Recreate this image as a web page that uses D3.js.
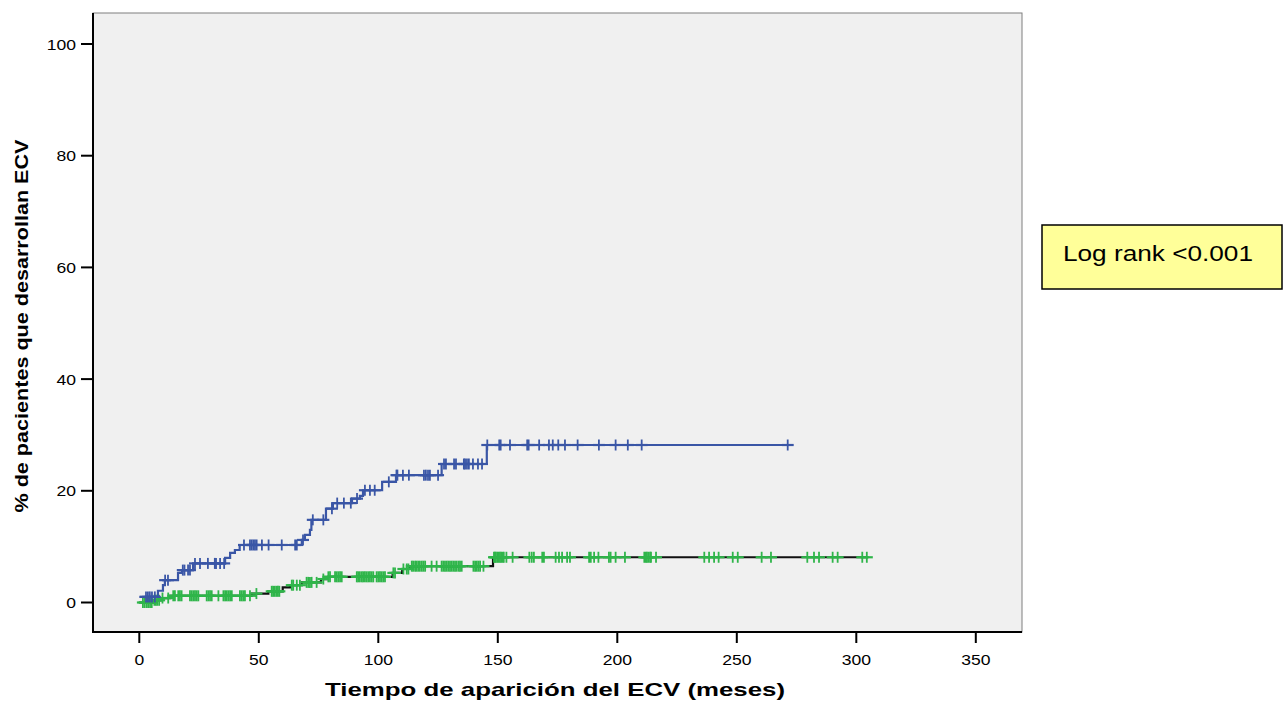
<!DOCTYPE html>
<html><head><meta charset="utf-8">
<script src="https://cdn.jsdelivr.net/npm/d3@7"></script>
<style>body{margin:0;background:#fff;}svg{display:block;}</style>
</head><body>
<svg id="c" width="1288" height="702"></svg>
<script>
// ---- data ----
const xTicks = [0, 50, 100, 150, 200, 250, 300, 350];
const yTicks = [0, 20, 40, 60, 80, 100];
const xTitle = "Tiempo de aparición del ECV (meses)";
const yTitle = "% de pacientes que desarrollan ECV";
const noteText = "Log rank <0.001";

// step curves: [time, cumulative % after step]
const blueSteps = [[0,1.0],[7.8,2.1],[9.9,3.1],[10.7,4.0],[16.2,5.3],[17.9,5.8],[22.5,7.0],[35.9,8.0],[38,8.9],[40,9.4],[42,10.3],[68,11.2],[69.3,12.1],[71.4,13.0],[72,14.8],[78.1,16.8],[81,17.8],[89,18.6],[92.3,19.1],[93.6,20.1],[101.6,21.6],[107.4,22.8],[126.5,24.8],[145.4,28.2]];
const blueEnd = 271.3;
const blueCensored = [2.8,3.6,4.4,5.3,6.5,10.8,12,18.2,18.9,20.4,21.2,23.3,25.4,28.7,31.6,32.1,33.8,35.5,43.8,46.3,47,47.7,48.4,49.1,51.3,54.1,59.6,65.2,65.9,68.5,72.6,77,80.6,82.8,85.6,88.5,91.1,94.4,96.5,98.5,104.4,107.6,108,110.3,112.8,119.1,119.9,120.8,121.6,125,127.5,128.3,131.7,132.5,135.8,136.3,137.1,137.9,139.6,141.7,143.4,145.6,150.6,151.2,155.1,162.3,162.9,167.3,171.4,173,175.3,178.1,183.4,192.3,199.3,204.4,210.2,271.3];

const greenSteps = [[0,0],[6,0.4],[9,0.8],[13,1.2],[47,1.6],[54,2.0],[60,2.7],[63,3.1],[68,3.6],[76,4.2],[79,4.6],[106,5.3],[110,6.0],[113,6.5],[148,8.1]];
const greenEnd = 305;
const greenCensored = [1.5,2.2,3,3.7,4.5,5.2,6.3,6.9,7.5,8.3,9.7,12.1,14.2,14.9,16.3,17,17.7,21.2,21.9,22.6,23.3,24,24.7,28.2,28.9,29.6,30.3,33.1,35.2,35.9,36.6,37.3,38,38.7,42.1,42.8,43.5,44.2,46.3,49,55.4,56,56.7,57.4,58,58.6,63.8,64.4,65.9,67.2,70,70.7,71.4,72.1,74.2,77,79.1,79.8,81.9,82.6,83.3,84,84.7,91,91.6,92.3,93.1,93.7,94.4,95.1,95.8,96.5,97.2,97.9,99.3,100,100.7,101.4,102.1,102.8,106.3,107,110.5,111.9,112.6,114,114.6,115.4,116,116.7,117.4,118.2,118.9,119.6,122.3,124.4,126.5,127.2,127.9,128.6,129.3,130,130.7,131.4,132.1,132.8,133.6,134.2,134.9,139.8,140.5,141.2,141.9,142.6,144,148.4,148.8,149.2,149.8,150.3,150.9,151.4,152,152.5,153.6,156.2,163.2,164.2,165.1,168.6,169.3,174.2,175.6,176.9,179,180.2,188.2,188.9,190.3,192.1,196.5,197.2,199.3,203.2,211.3,211.9,212.4,213,213.7,214.1,216.2,236.4,238.4,240.5,242.4,248.3,250.4,260.4,264.3,279.5,282.3,284.4,290.1,292.2,302.5,304.4];

// ---- drawing ----
const svg = d3.select("#c");
const frame = {l:93, t:13, r:1022, b:632};
const x = d3.scaleLinear().domain([0,350]).range([139.3,975.8]);
const y = d3.scaleLinear().domain([0,100]).range([602.5,44]);
const FONT = "'Liberation Sans', Arial, sans-serif";
const SX = 1.17; // horizontal stretch of text in reference

svg.append("rect").attr("x",frame.l).attr("y",frame.t)
  .attr("width",frame.r-frame.l).attr("height",frame.b-frame.t)
  .attr("fill","#f0f0f0").attr("stroke","#7f7f7f").attr("stroke-width",1);

function txt(g, s, px, py, size, anchor, weight){
  return g.append("text").attr("transform",`translate(${px},${py}) scale(${SX},1)`)
    .attr("text-anchor",anchor).attr("font-family",FONT).attr("font-size",size)
    .attr("font-weight",weight||"normal").attr("fill","#000").text(s);
}

// axes
const ax = svg.append("g");
ax.append("line").attr("x1",frame.l).attr("x2",frame.l).attr("y1",frame.t).attr("y2",frame.b+1).attr("stroke","#000").attr("stroke-width",2);
ax.append("line").attr("x1",frame.l).attr("x2",frame.r).attr("y1",frame.b).attr("y2",frame.b).attr("stroke","#000").attr("stroke-width",2);
yTicks.forEach(v=>{
  ax.append("line").attr("x1",81).attr("x2",frame.l).attr("y1",y(v)).attr("y2",y(v)).attr("stroke","#000").attr("stroke-width",2);
  txt(ax, String(v), 76, y(v)+5.5, 15, "end");
});
xTicks.forEach(v=>{
  ax.append("line").attr("x1",x(v)).attr("x2",x(v)).attr("y1",frame.b).attr("y2",643).attr("stroke","#000").attr("stroke-width",2);
  txt(ax, String(v), x(v), 664.5, 15, "middle");
});
ax.append("text").attr("x",555).attr("y",696).attr("text-anchor","middle")
  .attr("font-family",FONT).attr("font-size",19).attr("font-weight","bold")
  .attr("textLength",460).attr("lengthAdjust","spacingAndGlyphs").text(xTitle);
ax.append("text").attr("transform","translate(28,326) rotate(-90)").attr("text-anchor","middle")
  .attr("font-family",FONT).attr("font-size",18).attr("font-weight","bold")
  .attr("textLength",373).attr("lengthAdjust","spacingAndGlyphs").text(yTitle);

// curves
function stepPath(steps, end){
  const pts = steps.slice();
  pts.push([end, steps[steps.length-1][1]]);
  return d3.line().x(d=>x(d[0])).y(d=>y(d[1])).curve(d3.curveStepAfter)(pts);
}
function valAt(steps, t){
  let v = steps[0][1];
  for(const s of steps){ if(s[0] <= t) v = s[1]; }
  return v;
}
function drawCurve(steps, end, cens, lineColor, markColor){
  const g = svg.append("g");
  g.append("path").attr("d", stepPath(steps,end)).attr("fill","none")
    .attr("stroke",lineColor).attr("stroke-width",2.2);
  const m = g.selectAll("g.m").data(cens).enter().append("g")
    .attr("transform",d=>`translate(${x(d)},${y(valAt(steps,d))})`);
  m.append("line").attr("x1",-6).attr("x2",6).attr("y1",0).attr("y2",0).attr("stroke",markColor).attr("stroke-width",2.2);
  m.append("line").attr("x1",0).attr("x2",0).attr("y1",-5.5).attr("y2",5.5).attr("stroke",markColor).attr("stroke-width",1.8);
}
drawCurve(greenSteps, greenEnd, greenCensored, "#111", "#2fb54a");
drawCurve(blueSteps, blueEnd, blueCensored, "#3a56a6", "#3a56a6");

// note box
const nb = svg.append("g");
nb.append("rect").attr("x",1042).attr("y",225).attr("width",240).attr("height",64)
  .attr("fill","#ffff99").attr("stroke","#000").attr("stroke-width",1.5);
nb.append("text").attr("x",1063).attr("y",261).attr("font-family",FONT).attr("font-size",22)
  .attr("textLength",190).attr("lengthAdjust","spacingAndGlyphs").text(noteText);
</script>
</body></html>
